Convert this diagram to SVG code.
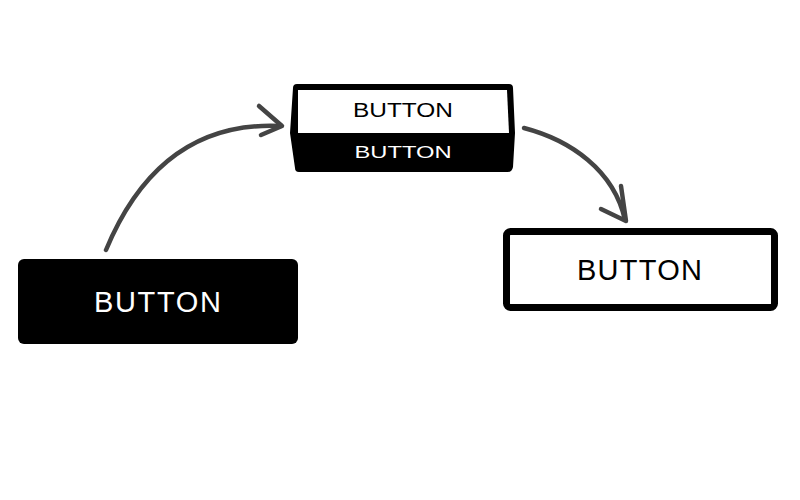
<svg xmlns="http://www.w3.org/2000/svg" width="800" height="500" viewBox="0 0 800 500">
<style>
.lbl{font-family:"Liberation Sans",Arial,sans-serif;text-anchor:middle}
.conn{fill:none;stroke:#444;stroke-width:4.5;stroke-linecap:round;stroke-linejoin:round}
</style>
<rect width="800" height="500" fill="#fff"/>
<g id="connectors">
  <path class="conn" d="M106,250 Q160,120 281,126"/>
  <path class="conn" d="M259,106 L282,126 L261,135"/>
  <path class="conn" d="M524,128 C570,140 614,170 625,220"/>
  <path class="conn" d="M621,186 L626,221 L601,209"/>
</g>
<g id="node-start">
  <rect x="18" y="259" width="280" height="85" rx="6" fill="#000"/>
  <text class="lbl" x="157.5" y="312" font-size="29" textLength="127" fill="#fff">BUTTON</text>
</g>
<g id="node-pressed">
  <path d="M297,84 L509,84 Q513,84 513,88 L515,133 L513,167 Q512,172 508,172 L299,172 Q295,172 295,168 L290,133 L293,88 Q293,84 297,84 Z" fill="#000"/>
  <path d="M298,90 L507,90 L509,133 L298,133 Z" fill="#fff"/>
  <text class="lbl" x="403" y="117" font-size="20" textLength="100" lengthAdjust="spacingAndGlyphs" fill="#000">BUTTON</text>
  <text class="lbl" x="403" y="158" font-size="17" textLength="97" lengthAdjust="spacingAndGlyphs" fill="#fff">BUTTON</text>
</g>
<g id="node-end">
  <rect x="506.5" y="231.5" width="268" height="76" rx="4" fill="#fff" stroke="#000" stroke-width="7"/>
  <text class="lbl" x="639.5" y="280" font-size="29" textLength="125" fill="#000">BUTTON</text>
</g>
</svg>
